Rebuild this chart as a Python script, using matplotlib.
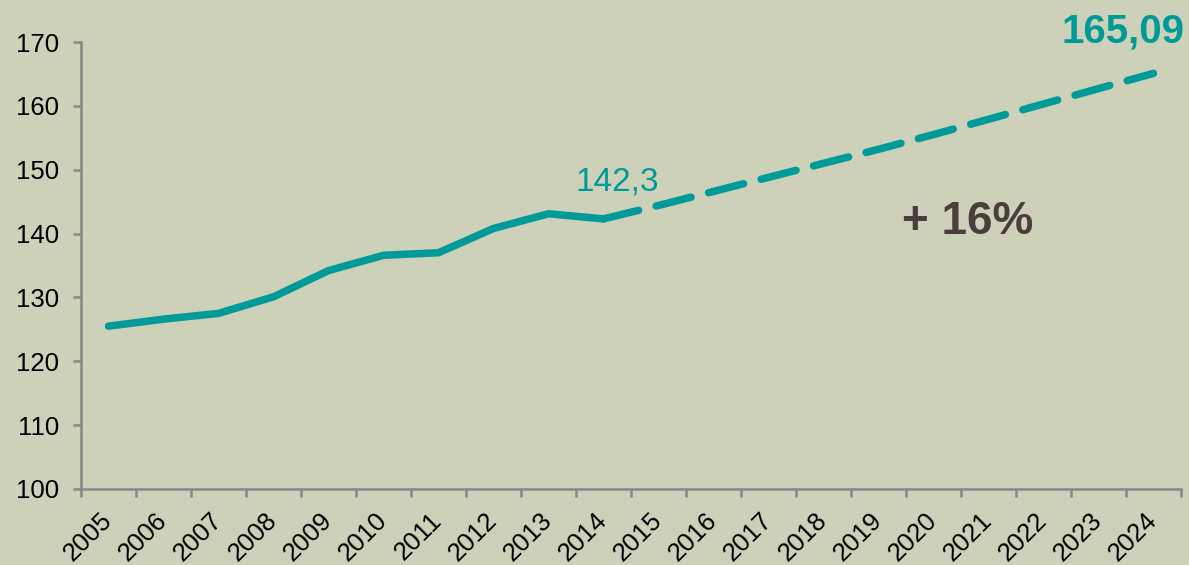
import matplotlib
matplotlib.use("Agg")
import matplotlib.pyplot as plt

years = [str(y) for y in range(2005, 2025)]
hist_values = [125.5, 126.6, 127.5, 130.1, 134.2, 136.6, 137.0, 140.8, 143.1, 142.3]
proj_values = [142.3, 144.4, 146.6, 148.8, 151.0, 153.2, 155.5, 157.9, 160.3, 162.7, 165.09]
hist_label = "142,3"
proj_label = "165,09"
growth_label = "+ 16%"

BG = "#CDD1B9"
TEAL = "#009A98"
GRAY = "#878787"

plt.rcParams['font.family'] = ['Liberation Sans', 'DejaVu Sans']
plt.rcParams['lines.scale_dashes'] = False

fig = plt.figure(figsize=(11.89, 5.65), dpi=100, facecolor=BG)
ax = fig.add_axes([81/1189, 1-489/565, 1100/1189, 447/565], facecolor=BG)

xh = list(range(len(hist_values)))
xp = list(range(len(hist_values)-1, len(hist_values)-1+len(proj_values)))

ax.plot(xh, hist_values, color=TEAL, lw=5.4, solid_capstyle='round', solid_joinstyle='round')
ax.plot(xp, proj_values, color=TEAL, lw=5.4, dashes=(26, 13), dash_capstyle='round')

ax.set_xlim(-0.5, len(years)-0.5)
ax.set_ylim(100, 170)
ax.set_yticks(range(100, 171, 10))

ax.set_xticks(range(len(years)))
ax.set_xticklabels(years, rotation=45, ha='right', va='center', rotation_mode='anchor')
ax.set_xticks([i - 0.5 for i in range(len(years)+1)], minor=True)
ax.tick_params(axis='x', which='major', length=0, pad=20, labelsize=18.5)
ax.tick_params(axis='x', which='minor', length=6, width=1.8, color=GRAY, direction='out')
ax.tick_params(axis='y', which='major', length=6, width=1.8, color=GRAY, direction='out', labelsize=18.5, pad=10)

for s in ['top', 'right']:
    ax.spines[s].set_visible(False)
for s in ['left', 'bottom']:
    ax.spines[s].set_color(GRAY)
    ax.spines[s].set_linewidth(1.8)

ax.annotate(hist_label, xy=(xh[-1], hist_values[-1]), xytext=(14, 37), textcoords='offset pixels',
            ha='center', va='center', color=TEAL, fontsize=24)
ax.annotate(proj_label, xy=(xp[-1], proj_values[-1]), xytext=(-30, 42), textcoords='offset pixels',
            ha='center', va='center', color=TEAL, fontsize=29, fontweight='bold', annotation_clip=False)
ax.text(15.63, 141.8, growth_label, ha='center', va='center', color='#4A3D3B', fontsize=33, fontweight='bold')

fig.savefig("out.png", dpi=100, facecolor=BG)
